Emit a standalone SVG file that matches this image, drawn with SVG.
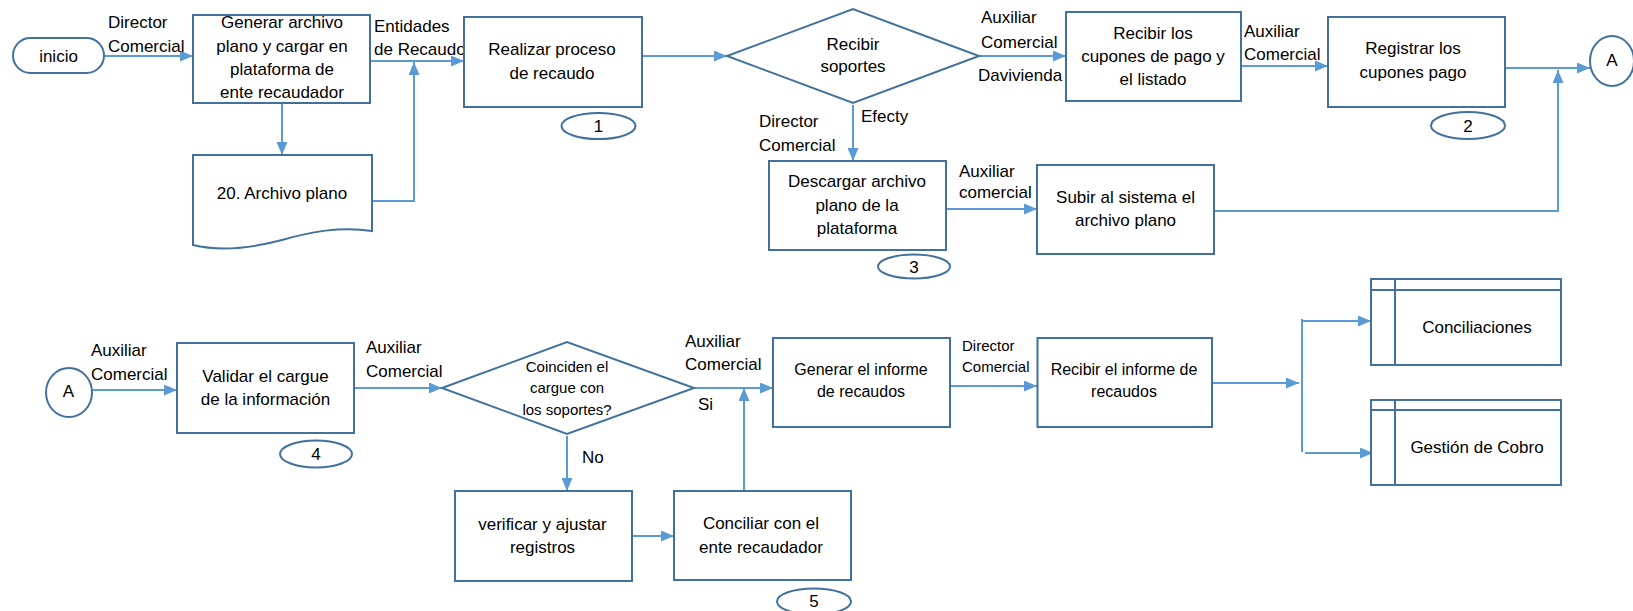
<svg xmlns="http://www.w3.org/2000/svg" width="1633" height="611" viewBox="0 0 1633 611">
  <defs>
    <marker id="arrow" markerUnits="userSpaceOnUse" markerWidth="13" markerHeight="11" refX="13" refY="5.5" orient="auto">
      <path d="M0,0 L13,5.5 L0,11 z" fill="#5B9BD5"/>
    </marker>
    <style>
      .box { fill: #fff; stroke: #41719C; stroke-width: 2; }
      .line { fill: none; stroke: #5B9BD5; stroke-width: 2; }
      .arr { fill: none; stroke: #5B9BD5; stroke-width: 2; marker-end: url(#arrow); }
      text { font-family: "Liberation Sans", Arial, sans-serif; font-size: 17px; fill: #000; }
      .c { text-anchor: middle; }
      .s15 { font-size: 15px; }
      .s16 { font-size: 16px; }
    </style>
  </defs>
  <rect width="1633" height="611" fill="#fff"/>

  <!-- connectors -->
  <g id="connectors">
    <line class="arr" x1="104" y1="56" x2="193" y2="56"/>
    <line class="arr" x1="282" y1="103" x2="282" y2="155"/>
    <line class="arr" x1="370" y1="61" x2="464" y2="61"/>
    <polyline class="arr" points="372,201 414,201 414,62"/>
    <line class="arr" x1="642" y1="56" x2="727" y2="56"/>
    <line class="arr" x1="853" y1="105" x2="853" y2="161"/>
    <line class="arr" x1="979" y1="56" x2="1066" y2="56"/>
    <line class="arr" x1="1241" y1="66" x2="1328" y2="66"/>
    <line class="arr" x1="1505" y1="68" x2="1590" y2="68"/>
    <line class="arr" x1="946" y1="209" x2="1037" y2="209"/>
    <polyline class="arr" points="1214,211 1558,211 1558,70"/>

    <line class="arr" x1="92" y1="390" x2="177" y2="390"/>
    <line class="arr" x1="354" y1="388" x2="442" y2="388"/>
    <line class="arr" x1="567" y1="436" x2="567" y2="491"/>
    <line class="arr" x1="632" y1="536" x2="674" y2="536"/>
    <line class="arr" x1="744" y1="491" x2="744" y2="388"/>
    <line class="arr" x1="694" y1="388" x2="773" y2="388"/>
    <line class="arr" x1="950" y1="386" x2="1037" y2="386"/>
    <line class="arr" x1="1212" y1="383" x2="1299" y2="383"/>
    <line class="line" x1="1302" y1="319" x2="1302" y2="452"/>
    <line class="arr" x1="1302" y1="321" x2="1371" y2="321"/>
    <line class="arr" x1="1305" y1="453" x2="1373" y2="453"/>
  </g>

  <!-- connector labels -->
  <g id="labels">
    <text x="108" y="28">Director</text>
    <text x="108" y="52">Comercial</text>
    <text x="374" y="32">Entidades</text>
    <text x="374" y="55">de Recaudo</text>
    <text x="759" y="127">Director</text>
    <text x="759" y="151">Comercial</text>
    <text x="861" y="122">Efecty</text>
    <text x="981" y="23">Auxiliar</text>
    <text x="981" y="48">Comercial</text>
    <text x="978" y="81">Davivienda</text>
    <text x="1244" y="37">Auxiliar</text>
    <text x="1244" y="60">Comercial</text>
    <text x="959" y="177">Auxiliar</text>
    <text x="959" y="198">comercial</text>

    <text x="91" y="356">Auxiliar</text>
    <text x="91" y="380">Comercial</text>
    <text x="366" y="353">Auxiliar</text>
    <text x="366" y="377">Comercial</text>
    <text x="582" y="463">No</text>
    <text x="685" y="347">Auxiliar</text>
    <text x="685" y="370">Comercial</text>
    <text x="698" y="410">Si</text>
    <text class="s15" x="962" y="351">Director</text>
    <text class="s15" x="962" y="372">Comercial</text>
  </g>

  <!-- top flow -->
  <g id="inicio">
    <rect class="box" x="13" y="38" width="91" height="35" rx="17.5"/>
    <text class="c" x="58.5" y="62">inicio</text>
  </g>

  <g id="generar-archivo">
    <rect class="box" x="193" y="15" width="177" height="88"/>
    <text class="c" x="282" y="28">Generar archivo</text>
    <text class="c" x="282" y="52">plano y cargar en</text>
    <text class="c" x="282" y="75">plataforma de</text>
    <text class="c" x="282" y="98">ente recaudador</text>
  </g>

  <g id="archivo-plano">
    <path class="box" d="M193,155 H372 V231 C340,226 310,232 282,240 C252,248 222,252 193,245 Z"/>
    <text class="c" x="282" y="199">20. Archivo plano</text>
  </g>

  <g id="realizar-proceso">
    <rect class="box" x="464" y="17" width="178" height="90"/>
    <text class="c" x="552" y="55">Realizar proceso</text>
    <text class="c" x="552" y="79">de recaudo</text>
  </g>
  <g id="ref-1">
    <ellipse class="box" cx="598.5" cy="126" rx="37" ry="13"/>
    <text class="c" x="598.5" y="132">1</text>
  </g>

  <g id="recibir-soportes">
    <polygon class="box" points="727,56 853,9 979,56 853,103"/>
    <text class="c" x="853" y="50">Recibir</text>
    <text class="c" x="853" y="72">soportes</text>
  </g>

  <g id="descargar-archivo">
    <rect class="box" x="769" y="161" width="177" height="89"/>
    <text class="c" x="857" y="187">Descargar archivo</text>
    <text class="c" x="857" y="211">plano de la</text>
    <text class="c" x="857" y="234">plataforma</text>
  </g>
  <g id="ref-3">
    <ellipse class="box" cx="914" cy="266.5" rx="36" ry="12"/>
    <text class="c" x="914" y="272.5">3</text>
  </g>

  <g id="subir-sistema">
    <rect class="box" x="1037" y="165" width="177" height="89"/>
    <text class="c" x="1125.5" y="203">Subir al sistema el</text>
    <text class="c" x="1125.5" y="226">archivo plano</text>
  </g>

  <g id="recibir-cupones">
    <rect class="box" x="1066" y="12" width="175" height="89"/>
    <text class="c" x="1153" y="39">Recibir los</text>
    <text class="c" x="1153" y="62">cupones de pago y</text>
    <text class="c" x="1153" y="85">el listado</text>
  </g>

  <g id="registrar-cupones">
    <rect class="box" x="1328" y="17" width="177" height="90"/>
    <text class="c" x="1413" y="54">Registrar los</text>
    <text class="c" x="1413" y="78">cupones pago</text>
  </g>
  <g id="ref-2">
    <ellipse class="box" cx="1468" cy="125.5" rx="37" ry="13.5"/>
    <text class="c" x="1468" y="131.5">2</text>
  </g>

  <g id="conector-a-salida">
    <ellipse class="box" cx="1612" cy="61" rx="22" ry="25"/>
    <text class="c" x="1612" y="66">A</text>
  </g>

  <!-- bottom flow -->
  <g id="conector-a-entrada">
    <ellipse class="box" cx="69" cy="392.5" rx="23" ry="24.5"/>
    <text class="c" x="68.5" y="397">A</text>
  </g>

  <g id="validar-cargue">
    <rect class="box" x="177" y="343" width="177" height="90"/>
    <text class="c" x="265.5" y="382">Validar el cargue</text>
    <text class="c" x="265.5" y="405">de la información</text>
  </g>
  <g id="ref-4">
    <ellipse class="box" cx="316" cy="454" rx="36" ry="13.5"/>
    <text class="c" x="316" y="460">4</text>
  </g>

  <g id="coinciden-cargue">
    <polygon class="box" points="442,388 567,342 694,388 567,434"/>
    <text class="c s15" x="567" y="372">Coinciden el</text>
    <text class="c s15" x="567" y="393">cargue con</text>
    <text class="c s15" x="567" y="415">los soportes?</text>
  </g>

  <g id="verificar-registros">
    <rect class="box" x="455" y="491" width="177" height="90"/>
    <text class="c" x="542.5" y="530">verificar y ajustar</text>
    <text class="c" x="542.5" y="553">registros</text>
  </g>

  <g id="conciliar-ente">
    <rect class="box" x="674" y="491" width="177" height="89"/>
    <text class="c" x="761" y="529">Conciliar con el</text>
    <text class="c" x="761" y="553">ente recaudador</text>
  </g>
  <g id="ref-5">
    <ellipse class="box" cx="814" cy="601.5" rx="37" ry="13"/>
    <text class="c" x="814" y="607">5</text>
  </g>

  <g id="generar-informe">
    <rect class="box" x="773" y="338" width="177" height="89"/>
    <text class="c s16" x="861" y="375">Generar el informe</text>
    <text class="c s16" x="861" y="397">de recaudos</text>
  </g>

  <g id="recibir-informe">
    <rect class="box" x="1037.5" y="338" width="174.5" height="89"/>
    <text class="c s16" x="1124" y="375">Recibir el informe de</text>
    <text class="c s16" x="1124" y="397">recaudos</text>
  </g>

  <g id="conciliaciones">
    <rect class="box" x="1371" y="279" width="190" height="86"/>
    <line class="box" x1="1371" y1="290" x2="1561" y2="290"/>
    <line class="box" x1="1395" y1="279" x2="1395" y2="365"/>
    <text class="c" x="1477" y="333">Conciliaciones</text>
  </g>

  <g id="gestion-cobro">
    <rect class="box" x="1371" y="400" width="190" height="85"/>
    <line class="box" x1="1371" y1="410" x2="1561" y2="410"/>
    <line class="box" x1="1395" y1="400" x2="1395" y2="485"/>
    <text class="c" x="1477" y="453">Gestión de Cobro</text>
  </g>
</svg>
